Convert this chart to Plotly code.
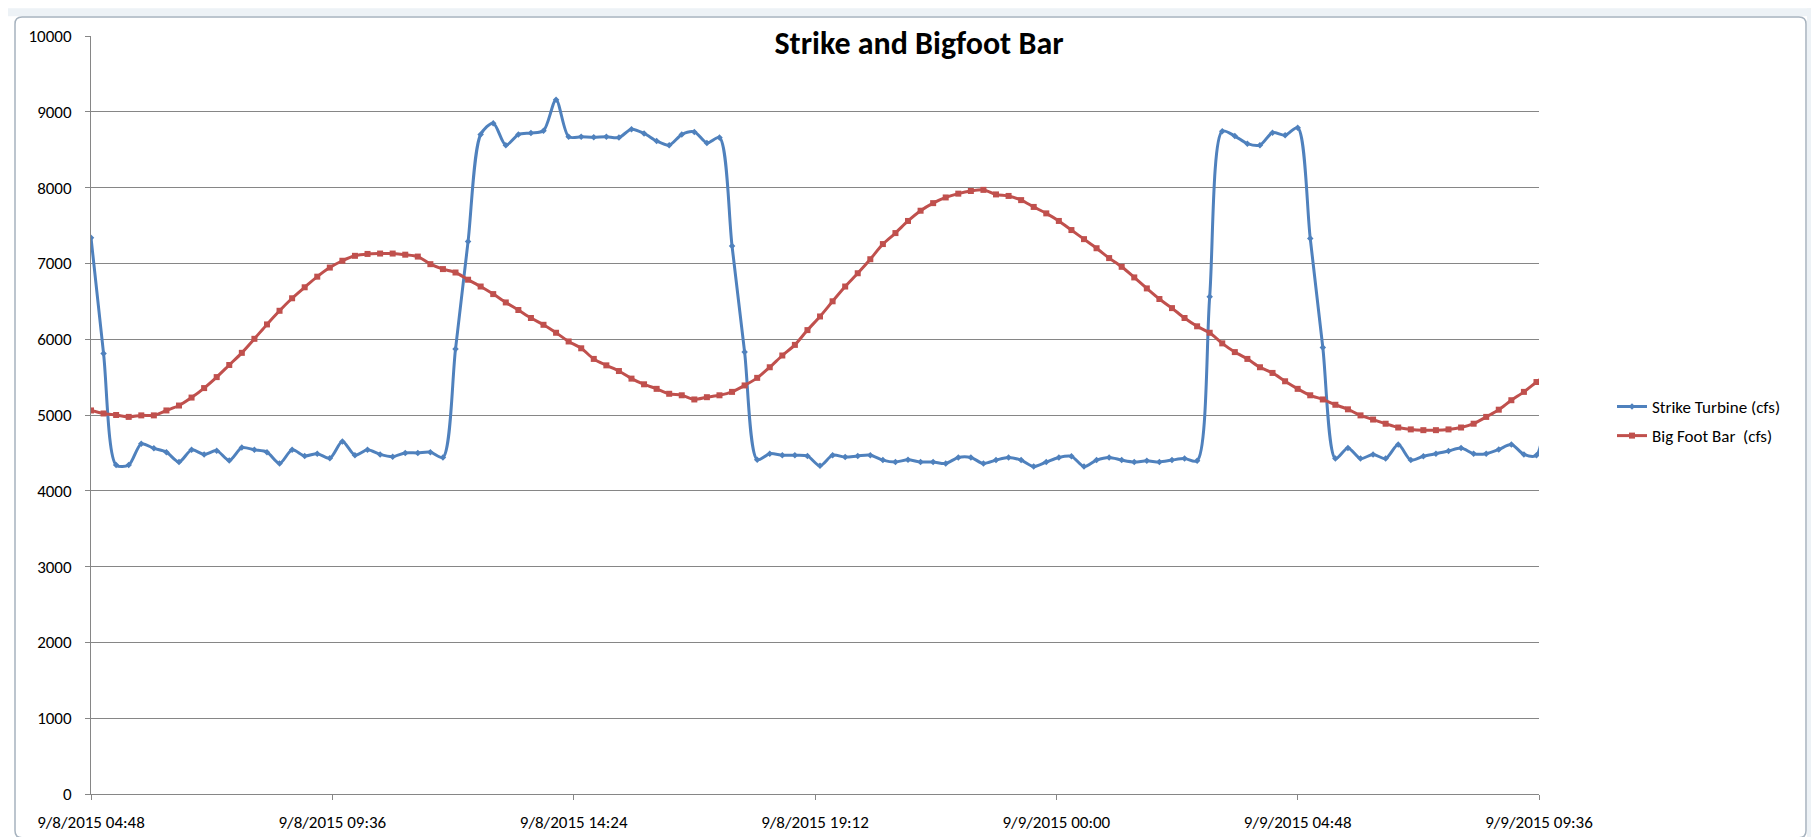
import pandas as pd
import plotly.graph_objects as go

# ---------------- data ----------------
start_time = "2015-09-08 04:48"
step_minutes = 15

strike_turbine = [
    7340, 5810, 4340, 4340, 4620, 4560, 4510, 4380, 4540, 4480,
    4530, 4400, 4570, 4540, 4510, 4360, 4540, 4460, 4490, 4430,
    4650, 4470, 4540, 4480, 4450, 4500, 4500, 4510, 4440, 5870,
    7290, 8700, 8850, 8560, 8700, 8720, 8750, 9160, 8670, 8670,
    8665, 8670, 8660, 8770, 8715, 8615, 8560, 8700, 8735, 8590,
    8660, 7230, 5830, 4410, 4490, 4470, 4470, 4460, 4330, 4470,
    4445, 4460, 4470, 4405, 4380, 4410, 4380, 4380, 4360, 4440,
    4440, 4360, 4405, 4440, 4405, 4320, 4380, 4440, 4455, 4320,
    4405, 4440, 4405, 4380, 4395, 4380, 4405, 4425, 4395, 6560,
    8745, 8680, 8580, 8560, 8725, 8690, 8790, 7330, 5890, 4425,
    4565, 4425, 4480, 4425, 4610, 4405, 4455, 4490, 4525, 4565,
    4490, 4490, 4545, 4610, 4480, 4470, 8700,
]

big_foot_bar = [
    5060, 5020, 5000, 4975, 4995, 4995, 5060, 5125, 5230, 5355,
    5500, 5660, 5820, 6005, 6195, 6375, 6540, 6685, 6825, 6945,
    7035, 7100, 7125, 7130, 7130, 7115, 7090, 6990, 6925, 6880,
    6785, 6695, 6595, 6485, 6385, 6280, 6190, 6085, 5970, 5880,
    5740, 5655, 5580, 5480, 5405, 5345, 5280, 5260, 5205, 5235,
    5260, 5305, 5390, 5490, 5630, 5785, 5925, 6120, 6300, 6500,
    6695, 6870, 7055, 7255, 7400, 7560, 7695, 7795, 7870, 7920,
    7955, 7970, 7910, 7890, 7835, 7745, 7660, 7560, 7440, 7320,
    7200, 7070, 6955, 6815, 6670, 6530, 6410, 6280, 6170, 6085,
    5945, 5830, 5740, 5630, 5555, 5445, 5345, 5260, 5205, 5135,
    5075, 4995, 4940, 4885, 4835, 4810, 4800, 4800, 4810, 4835,
    4885, 4975, 5070, 5195, 5305, 5435, 5560,
]

times = pd.date_range(start=start_time, periods=len(strike_turbine),
                      freq=f"{step_minutes}min")

tick_values = ["2015-09-08 04:48", "2015-09-08 09:36", "2015-09-08 14:24",
               "2015-09-08 19:12", "2015-09-09 00:00", "2015-09-09 04:48",
               "2015-09-09 09:36"]
tick_labels = ["9/8/2015 04:48", "9/8/2015 09:36", "9/8/2015 14:24",
               "9/8/2015 19:12", "9/9/2015 00:00", "9/9/2015 04:48",
               "9/9/2015 09:36"]
x_range = ["2015-09-08 04:48", "2015-09-09 09:36"]
y_ticks = [0, 1000, 2000, 3000, 4000, 5000, 6000, 7000, 8000, 9000, 10000]
y_tick_labels = ["0", "1000", "2000", "3000", "4000", "5000", "6000",
                 "7000", "8000", "9000", "10000"]

series_names = ["Strike Turbine (cfs)", "Big Foot Bar  (cfs)"]
title_text = "Strike and Bigfoot Bar"

# ---------------- layout geometry ----------------
W, H = 1819, 837
L, R, T, B = 83, 1531, 28, 791  # plot area in pixels
FONT = "Carlito, Lato, 'Open Sans', sans-serif"
GRID = "#868686"


def px(x):
    return (x - L) / (R - L)


def py(y):
    return (B - y) / (B - T)


fig = go.Figure()
fig.add_trace(go.Scatter(
    x=times, y=strike_turbine, name=series_names[0], mode="lines+markers",
    line=dict(color="#4F81BD", width=3, shape="spline", smoothing=0.8),
    marker=dict(symbol="diamond", size=5, color="#4F81BD"),
    legendgroup="a",
))
fig.add_trace(go.Scatter(
    x=times, y=big_foot_bar, name=series_names[1], mode="lines+markers",
    line=dict(color="#C0504D", width=3, shape="spline", smoothing=0.8),
    marker=dict(symbol="square", size=6, color="#C0504D"),
    legendgroup="b",
))

# chart frame (rounded rectangle) and spreadsheet strip
fx0, fx1, fy0, fy1, rr = 7, 1798, 9, 835, 7
path = (
    f"M {px(fx0 + rr)},{py(fy0)} L {px(fx1 - rr)},{py(fy0)} "
    f"Q {px(fx1)},{py(fy0)} {px(fx1)},{py(fy0 + rr)} "
    f"L {px(fx1)},{py(fy1 - rr)} Q {px(fx1)},{py(fy1)} {px(fx1 - rr)},{py(fy1)} "
    f"L {px(fx0 + rr)},{py(fy1)} Q {px(fx0)},{py(fy1)} {px(fx0)},{py(fy1 - rr)} "
    f"L {px(fx0)},{py(fy0 + rr)} Q {px(fx0)},{py(fy0)} {px(fx0 + rr)},{py(fy0)} Z"
)
shapes = [
    dict(type="rect", xref="paper", yref="paper", x0=px(0), x1=px(W),
         y0=py(0), y1=py(fy0 - 1), fillcolor="#EDF2F6", line=dict(width=0),
         layer="below"),
    dict(type="rect", xref="paper", yref="paper", x0=px(fx1 + 1), x1=px(W),
         y0=py(H), y1=py(0), fillcolor="#EDF2F6", line=dict(width=0),
         layer="below"),
    dict(type="path", xref="paper", yref="paper", path=path,
         line=dict(color="#A7B3BF", width=1.5), fillcolor="rgba(0,0,0,0)"),
]

fig.update_layout(
    width=W, height=H,
    margin=dict(l=L, r=W - R, t=T, b=H - B, pad=0),
    paper_bgcolor="white", plot_bgcolor="white",
    font=dict(family=FONT, color="black", size=17),
    title=dict(text=f"<b>{title_text}</b>", x=911 / W, xref="container",
               xanchor="center", y=1 - 35 / H, yref="container",
               yanchor="middle", font=dict(family=FONT, size=32, color="black")),
    showlegend=True,
    legend=dict(x=px(1604), y=py(416), xanchor="left", yanchor="middle",
                font=dict(family=FONT, size=17, color="black"),
                bgcolor="rgba(0,0,0,0)", borderwidth=0, tracegroupgap=4,
                itemwidth=30),
    shapes=shapes,
)
fig.update_xaxes(
    type="date", range=x_range, tickmode="array", tickvals=tick_values,
    ticktext=tick_labels, showgrid=False, zeroline=False,
    showline=True, linecolor=GRID, linewidth=1,
    ticks="outside", ticklen=5, tickcolor=GRID, tickwidth=1,
    tickfont=dict(family=FONT, size=17, color="black"),
    ticklabelstandoff=8,
)
fig.update_yaxes(
    range=[0, 10000], tickmode="array", tickvals=y_ticks, ticktext=y_tick_labels,
    showgrid=True, gridcolor=GRID, gridwidth=1, zeroline=False,
    showline=True, linecolor=GRID, linewidth=1,
    ticks="outside", ticklen=5, tickcolor=GRID, tickwidth=1,
    tickfont=dict(family=FONT, size=17, color="black"),
    ticklabelstandoff=10,
)

fig.write_html("out.html")
